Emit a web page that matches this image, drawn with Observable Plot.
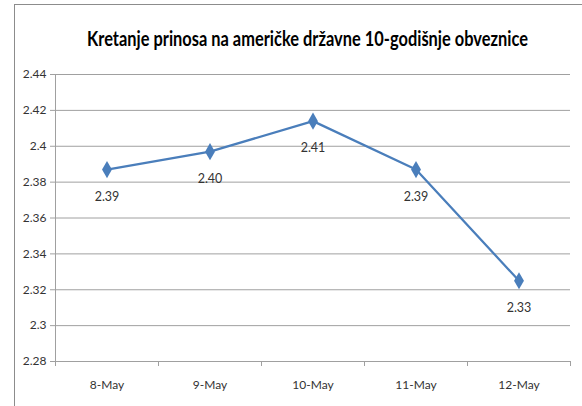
<!DOCTYPE html>
<html><head><meta charset="utf-8">
<script src="https://cdn.jsdelivr.net/npm/d3@7"></script>
<script src="https://cdn.jsdelivr.net/npm/@observablehq/plot@0.6"></script>
<style>
body{margin:0;background:#fff;}
#wrap{position:relative;width:582px;height:406px;overflow:hidden;background:#fff;font-family:Lato,"Open Sans",sans-serif;}
#frame{position:absolute;left:14px;top:4px;width:620px;height:440px;border:1px solid #8c8c8c;}
#title{position:absolute;left:0;top:26px;font-weight:bold;font-size:20px;color:#000;white-space:nowrap;transform-origin:0 0;}
#chart{position:absolute;left:0;top:0;}
</style></head><body>
<div id="wrap"><div id="frame"></div><span id="title">Kretanje prinosa na američke državne 10-godišnje obveznice</span><div id="chart"></div></div>
<script>
const categories = ["8-May", "9-May", "10-May", "11-May", "12-May"];
const yields = [2.387, 2.397, 2.414, 2.387, 2.325];
const valueLabels = ["2.39", "2.40", "2.41", "2.39", "2.33"];
const yTicks = [2.28, 2.30, 2.32, 2.34, 2.36, 2.38, 2.40, 2.42, 2.44];
const yTickLabels = ["2.28", "2.3", "2.32", "2.34", "2.36", "2.38", "2.4", "2.42", "2.44"];

const data = categories.map((c, i) => ({i, c, v: yields[i], label: valueLabels[i]}));
const font = 'Lato,"Open Sans",sans-serif';
const chart = Plot.plot({
  width: 582, height: 406,
  marginTop: 74, marginBottom: 45, marginLeft: 55, marginRight: 12,
  style: {fontFamily: font, fontSize: "12px", color: "#333", background: "transparent"},
  x: {type: "linear", domain: [-0.5, categories.length - 0.5]},
  y: {domain: [2.28, 2.44]},
  marks: [
    Plot.gridY(yTicks, {stroke: "#a0a0a0", strokeOpacity: 1}),
    Plot.ruleX([-0.5], {y1: 2.28, y2: 2.44, stroke: "#a0a0a0"}),
    Plot.axisY(yTicks, {tickFormat: d => yTickLabels[yTicks.indexOf(d)], tickSize: 5, tickPadding: 4, stroke: "#a0a0a0", fill: "#333", label: null}),
    Plot.axisX(d3.range(-0.5, categories.length), {tickSize: 5, tickFormat: () => "", stroke: "#a0a0a0", label: null}),
    Plot.axisX(d3.range(categories.length), {tickSize: 0, tickPadding: 19, tickFormat: i => categories[i], fill: "#333", label: null}),
    Plot.line(data, {x: "i", y: "v", stroke: "#4a7ebb", strokeWidth: 2.25}),
    Plot.dot(data, {x: "i", y: "v", symbol: "diamond", r: 5.2, fill: "#4a7ebb", stroke: "none"}),
    Plot.text(data, {x: "i", y: "v", text: "label", dy: 27, fill: "#333", fontSize: 12.5})
  ]
});
document.getElementById("chart").appendChild(chart);
// fit the title into the span the reference title occupies
const t = document.getElementById("title");
const w = t.getBoundingClientRect().width;
const target = 441, left = 87;
t.style.left = left + "px";
t.style.transform = `scaleX(${target / w})`;
</script>
</body></html>
